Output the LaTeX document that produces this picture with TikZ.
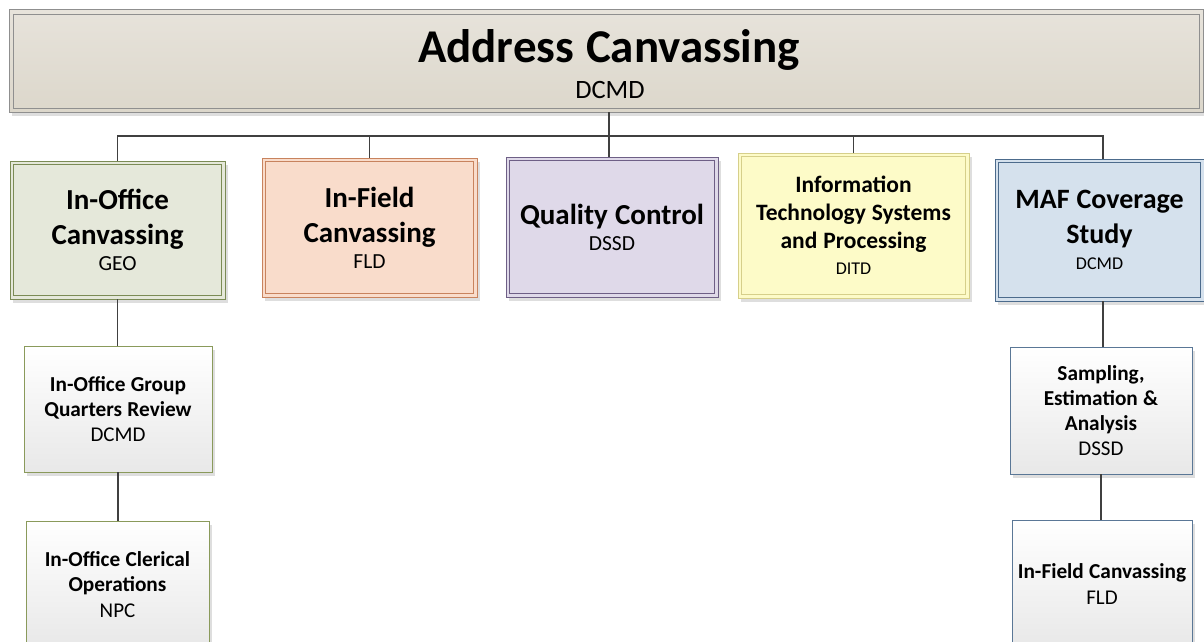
\documentclass[tikz,border=0pt]{standalone}
\usepackage{fontspec}
\setmainfont{Carlito}
\usetikzlibrary{shadows}
\definecolor{topfillA}{HTML}{E7E3DB}
\definecolor{topfillB}{HTML}{DCD7CB}
\definecolor{topline}{HTML}{8F8F8F}
\definecolor{grnline}{HTML}{7B8B55}
\definecolor{grnfill}{HTML}{E5E8DA}
\definecolor{orgline}{HTML}{C8835E}
\definecolor{orgfill}{HTML}{F9DCCB}
\definecolor{purline}{HTML}{6E5F86}
\definecolor{purfill}{HTML}{DFD9E9}
\definecolor{yelline}{HTML}{D6CF8A}
\definecolor{yelfill}{HTML}{FDFBC8}
\definecolor{bluline}{HTML}{4C6B8C}
\definecolor{blufill}{HTML}{D5E1ED}
\definecolor{subgrn}{HTML}{8A9A5B}
\definecolor{subblu}{HTML}{5A7796}
\definecolor{connc}{HTML}{404040}
\newcommand\wsp{\spaceskip=.25em\relax\xspaceskip=.25em\relax}
\newcommand\lvlttl[2][29]{{\fontsize{#1}{35}\selectfont\bfseries\wsp #2\par}}
\newcommand\lvlsub[2][21.5]{{\fontsize{#1}{26}\selectfont\wsp #2\par}}
\newcommand\itttl[1]{{\fontsize{23.5}{28}\selectfont\bfseries\wsp #1\par}}
\newcommand\subttl[1]{{\fontsize{21.3}{25}\selectfont\bfseries\wsp #1\par}}
\newcommand\subsub[1]{{\fontsize{21}{25.5}\selectfont\wsp #1\par}}
\begin{document}
\begin{tikzpicture}[x=1pt,y=-1pt,
  conn/.style={line width=1.8pt, draw=connc},
  shad/.style={drop shadow={shadow xshift=3pt, shadow yshift=-4pt, fill=black!13, opacity=1}},
  lvlbox/.style={shad, line width=0.8pt, inner sep=0pt, align=center, text width=208pt},
  subbox/.style={shad, line width=0.8pt, inner sep=0pt, align=center, text width=180pt,
    top color=white, bottom color=black!9},
  toptext/.style={inner sep=0pt, anchor=base},
]
\useasboundingbox (0,0) rectangle (1204,641);
% top
\node[shad, line width=0.8pt, inner sep=0pt, draw=topline, top color=topfillA, bottom color=topfillB,
  minimum width=1194, minimum height=103] (top) at (606,60.5) {};
\draw[topline, line width=0.8pt] ([shift={(5,6)}]top.north west) rectangle ([shift={(-4,-4)}]top.south east);
\node[toptext, font={\fontsize{47}{54}\selectfont\bfseries\wsp}] (toptitle) at (609,62) {Address Canvassing};
\node[toptext, font={\fontsize{26.5}{30}\selectfont}] (topunit) at (610,98) {DCMD};
% level boxes
\node[lvlbox, draw=grnline, fill=grnfill, minimum width=215, minimum height=138] (b1) at (117.5,230)
  {\lvlttl{In-Office\\Canvassing}\lvlsub{GEO}};
\node[lvlbox, draw=orgline, fill=orgfill, minimum width=215, minimum height=139] (b2) at (369.5,227.5)
  {\lvlttl{In-Field\\Canvassing}\lvlsub{FLD}};
\node[lvlbox, draw=purline, fill=purfill, minimum width=212, minimum height=140] (b3) at (612,227)
  {\lvlttl{Quality Control}\lvlsub{DSSD}};
\node[lvlbox, text width=225pt, draw=yelline, fill=yelfill, minimum width=231, minimum height=145] (b4) at (853.5,225.5)
  {\itttl{Information\\Technology Systems\\and Processing}\lvlsub[18]{DITD}};
\node[lvlbox, draw=bluline, fill=blufill, minimum width=209, minimum height=142] (b5) at (1099.5,230)
  {\lvlttl[28]{MAF Coverage\\Study}\lvlsub[18]{DCMD}};
\foreach \n/\c in {b1/grnline,b2/orgline,b3/purline,b4/yelline,b5/bluline}{
  \draw[\c, line width=0.8pt] ([shift={(4,4)}]\n.north west) rectangle ([shift={(-4,-4)}]\n.south east);
}
% sub boxes
\node[subbox, draw=subgrn, minimum width=188, minimum height=126] (s1) at (118,409)
  {\subttl{In-Office Group\\Quarters Review}\subsub{DCMD}};
\node[subbox, draw=subgrn, minimum width=183, minimum height=127] (s2) at (117.5,584.5)
  {\subttl{In-Office Clerical\\Operations}\subsub{NPC}\vspace*{20pt}};
\node[subbox, draw=subblu, minimum width=182, minimum height=127] (s3) at (1101,410.5)
  {\subttl{Sampling,\\Estimation \&\\Analysis}\subsub{DSSD}};
\node[subbox, draw=subblu, minimum width=180, minimum height=128] (s4) at (1102,584)
  {\subttl{In-Field Canvassing}\subsub{FLD}\vspace*{21pt}};
% connectors
\coordinate (bus) at (609,136);
\coordinate (b5n) at ([xshift=3.5pt]b5.north);
\coordinate (b5s) at ([xshift=3.5pt]b5.south);
\draw[conn] (bus |- top.south) -- (bus);
\draw[conn] (b1.north) |- (bus) -| (b5n);
\draw[conn] (bus) -- (b3.north -| bus);
\draw[conn] (b2.north) -- (b2.north |- bus);
\draw[conn] (b4.north) -- (b4.north |- bus);
\draw[conn] (b1.south) -- (s1.north -| b1.south);
\draw[conn] (s1.south) -- (s2.north -| s1.south);
\draw[conn] (b5s) -- (s3.north -| b5s);
\draw[conn] (s3.south) -- (s4.north -| s3.south);
\end{tikzpicture}
\end{document}
